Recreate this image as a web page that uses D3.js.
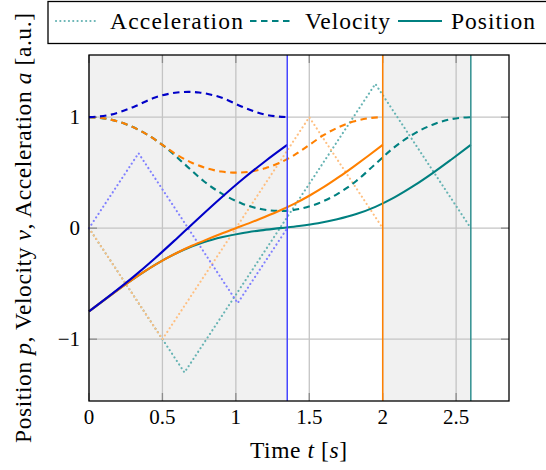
<!DOCTYPE html>
<html>
<head>
<meta charset="utf-8">
<script src="https://cdn.jsdelivr.net/npm/d3@7"></script>
<style>
  html, body { margin: 0; padding: 0; background: #fff; }
  svg { display: block; }
</style>
</head>
<body>
<svg id="chart" width="546" height="470"></svg>
<script>
// ---------------- data ----------------
const xTicks = [0, 0.5, 1, 1.5, 2, 2.5];
const xTickLabels = ["0", "0.5", "1", "1.5", "2", "2.5"];
const yTicks = [-1, 0, 1];
const yTickLabels = ["\u22121", "0", "1"];

const legendLabels = ["Acceleration", "Velocity", "Position"];

// trajectory end times (vertical markers) and shaded intervals
const durations = [1.35, 2.0, 2.6];
const shadedIntervals = [[0, 1.35], [2.0, 2.6]];

// blue trajectory
const blueT   = [0, 0.15, 0.3, 0.45, 0.6, 0.675, 0.75, 0.9, 1.05, 1.2, 1.35];
const bluePos = [-0.75, -0.599, -0.441, -0.271, -0.09, 0.002, 0.094, 0.274, 0.445, 0.603, 0.75];
const blueVel = [1, 1.023, 1.09, 1.177, 1.222, 1.228, 1.222, 1.177, 1.09, 1.023, 1];
const blueAccT = [0, 0.3375, 1.0125, 1.35];
const blueAcc  = [0, 0.675, -0.675, 0];

// orange trajectory
const orangeT   = [0, 0.1, 0.2, 0.3, 0.4, 0.5, 0.6, 0.7, 0.8, 0.9, 1.0, 1.1, 1.2, 1.3, 1.4, 1.5, 1.6, 1.7, 1.8, 1.9, 2.0];
const orangePos = [-0.75, -0.65, -0.553, -0.459, -0.371, -0.292, -0.221, -0.159, -0.103, -0.05, 0, 0.05, 0.103, 0.159, 0.221, 0.292, 0.371, 0.459, 0.553, 0.65, 0.75];
const orangeVel = [1, 0.99, 0.96, 0.91, 0.84, 0.75, 0.66, 0.59, 0.54, 0.51, 0.5, 0.51, 0.54, 0.59, 0.66, 0.75, 0.84, 0.91, 0.96, 0.99, 1];
const orangeAccT = [0, 0.5, 1.5, 2.0];
const orangeAcc  = [0, -1, 1, 0];

// teal trajectory
const tealT   = [0, 0.13, 0.26, 0.39, 0.52, 0.65, 0.78, 0.91, 1.04, 1.17, 1.3, 1.43, 1.56, 1.69, 1.82, 1.95, 2.08, 2.21, 2.34, 2.47, 2.6];
const tealPos = [-0.75, -0.621, -0.496, -0.38, -0.277, -0.192, -0.127, -0.08, -0.045, -0.02, 0, 0.02, 0.045, 0.08, 0.127, 0.192, 0.277, 0.38, 0.496, 0.621, 0.75];
const tealVel = [1, 0.983, 0.932, 0.848, 0.73, 0.578, 0.425, 0.307, 0.223, 0.172, 0.155, 0.172, 0.223, 0.307, 0.425, 0.578, 0.73, 0.848, 0.932, 0.983, 1];
const tealAccT = [0, 0.65, 1.95, 2.6];
const tealAcc  = [0, -1.3, 1.3, 0];

// ---------------- layout & styles ----------------
const FONT = '"Liberation Serif"';
const plot = { left: 89, right: 509, top: 55, bottom: 401 };
const colors = {
  blue: "#0000c8", blueMark: "#4646ff", blueAcc: "#8080ff",
  orange: "#ff8000", orangeMark: "#ff8000", orangeAcc: "#ffbf80",
  teal: "#008080", tealMark: "#2f8f8f", tealAcc: "#66b3b3"
};

const svg = d3.select("#chart");
const x = d3.scaleLinear().domain([0, 2.86]).range([plot.left, plot.right]);
const y = d3.scaleLinear().domain([-1.557, 1.560]).range([plot.bottom, plot.top]);

const zip = (ts, vs) => ts.map((t, i) => [t, vs[i]]);
const smooth = d3.line().x(d => x(d[0])).y(d => y(d[1])).curve(d3.curveMonotoneX);
const straight = d3.line().x(d => x(d[0])).y(d => y(d[1]));

// plot background shading
svg.append("g").selectAll("rect").data(shadedIntervals).join("rect")
  .attr("x", d => x(d[0])).attr("width", d => x(d[1]) - x(d[0]))
  .attr("y", plot.top).attr("height", plot.bottom - plot.top)
  .attr("fill", "#f1f1f1");

// grid
const grid = svg.append("g");
grid.selectAll(".gx").data(xTicks).join("line")
  .attr("x1", d => x(d)).attr("x2", d => x(d))
  .attr("y1", plot.top).attr("y2", plot.bottom)
  .attr("stroke", "#c4c4c4").attr("stroke-width", 1.3);
grid.selectAll(".gy").data(yTicks).join("line")
  .attr("y1", d => y(d)).attr("y2", d => y(d))
  .attr("x1", plot.left).attr("x2", plot.right)
  .attr("stroke", "#c4c4c4").attr("stroke-width", 1.3);

// inner tick marks on all four sides
const tickLen = 8;
const tk = svg.append("g").attr("stroke", "#8c8c8c").attr("stroke-width", 1.3);
xTicks.forEach(v => {
  tk.append("line").attr("x1", x(v)).attr("x2", x(v)).attr("y1", plot.bottom).attr("y2", plot.bottom - tickLen);
  tk.append("line").attr("x1", x(v)).attr("x2", x(v)).attr("y1", plot.top).attr("y2", plot.top + tickLen);
});
yTicks.forEach(v => {
  tk.append("line").attr("y1", y(v)).attr("y2", y(v)).attr("x1", plot.left).attr("x2", plot.left + tickLen);
  tk.append("line").attr("y1", y(v)).attr("y2", y(v)).attr("x1", plot.right).attr("x2", plot.right - tickLen);
});

// series
const dotted = { dash: "0.1 4.2", width: 2.1, cap: "round" };
const dashed = { dash: "6.5 4.5", width: 2.1, cap: "butt" };

function drawPath(points, gen, color, style) {
  svg.append("path").attr("d", gen(points))
    .attr("fill", "none").attr("stroke", color)
    .attr("stroke-width", style ? style.width : 2.1)
    .attr("stroke-dasharray", style ? style.dash : null)
    .attr("stroke-linecap", style ? style.cap : "butt")
    .attr("stroke-linejoin", "round");
}

// accelerations (dotted, light)
drawPath(zip(tealAccT, tealAcc), straight, colors.tealAcc, dotted);
drawPath(zip(orangeAccT, orangeAcc), straight, colors.orangeAcc, dotted);
drawPath(zip(blueAccT, blueAcc), straight, colors.blueAcc, dotted);

// velocities (dashed)
drawPath(zip(tealT, tealVel), smooth, colors.teal, dashed);
drawPath(zip(orangeT, orangeVel), smooth, colors.orange, dashed);
drawPath(zip(blueT, blueVel), smooth, colors.blue, dashed);

// positions (solid)
drawPath(zip(tealT, tealPos), smooth, colors.teal, null);
drawPath(zip(orangeT, orangePos), smooth, colors.orange, null);
drawPath(zip(blueT, bluePos), smooth, colors.blue, null);

// end-time markers
const markColors = [colors.blueMark, colors.orangeMark, colors.tealMark];
svg.append("g").selectAll("line").data(durations).join("line")
  .attr("x1", d => x(d)).attr("x2", d => x(d))
  .attr("y1", plot.top).attr("y2", plot.bottom)
  .attr("stroke", (d, i) => markColors[i]).attr("stroke-width", 1.5);

// frame
svg.append("rect")
  .attr("x", plot.left).attr("y", plot.top)
  .attr("width", plot.right - plot.left).attr("height", plot.bottom - plot.top)
  .attr("fill", "none").attr("stroke", "#000").attr("stroke-width", 1.3);

// tick labels
svg.append("g").selectAll("text").data(xTicks).join("text")
  .style("font-family", FONT)
  .attr("x", d => x(d)).attr("y", 423.5)
  .attr("text-anchor", "middle").attr("font-size", 21)
  .text((d, i) => xTickLabels[i]);
svg.append("g").selectAll("text").data(yTicks).join("text")
  .style("font-family", FONT)
  .attr("x", 80).attr("y", d => y(d) + 7)
  .attr("text-anchor", "end").attr("font-size", 21)
  .text((d, i) => yTickLabels[i]);

// axis labels
const xl = svg.append("text").style("font-family", FONT).attr("x", 298.5).attr("y", 458)
  .attr("text-anchor", "middle").attr("font-size", 23.5)
  .attr("textLength", 97).attr("lengthAdjust", "spacing");
xl.append("tspan").text("Time ");
xl.append("tspan").attr("font-style", "italic").text("t");
xl.append("tspan").text(" [");
xl.append("tspan").attr("font-style", "italic").text("s");
xl.append("tspan").text("]");

const yl = svg.append("text").style("font-family", FONT)
  .attr("transform", "translate(31,228) rotate(-90)")
  .attr("text-anchor", "middle").attr("font-size", 23.5)
  .attr("textLength", 430).attr("lengthAdjust", "spacing");
yl.append("tspan").text("Position ");
yl.append("tspan").attr("font-style", "italic").text("p");
yl.append("tspan").text(", Velocity ");
yl.append("tspan").attr("font-style", "italic").text("v");
yl.append("tspan").text(", Acceleration ");
yl.append("tspan").attr("font-style", "italic").text("a");
yl.append("tspan").text(" [a.u.]");

// legend
const lg = svg.append("g");
lg.append("rect").attr("x", 48).attr("y", 1.5).attr("width", 520).attr("height", 42)
  .attr("fill", "#fff").attr("stroke", "#000").attr("stroke-width", 1.3);
const legendItems = [
  { x0: 56, x1: 97, tx: 110, tw: 133, color: colors.tealAcc, style: dotted },
  { x0: 250, x1: 292, tx: 305, tw: 85, color: colors.teal, style: dashed },
  { x0: 398, x1: 442, tx: 451, tw: 84, color: colors.teal, style: null }
];
legendItems.forEach((it, i) => {
  lg.append("line").attr("x1", it.x0).attr("x2", it.x1).attr("y1", 21).attr("y2", 21)
    .attr("stroke", it.color).attr("stroke-width", it.style ? it.style.width : 2.1)
    .attr("stroke-dasharray", it.style ? it.style.dash : null)
    .attr("stroke-linecap", it.style ? it.style.cap : "butt");
  lg.append("text").style("font-family", FONT).attr("x", it.tx).attr("y", 28.5).attr("font-size", 23.5)
    .attr("textLength", it.tw).attr("lengthAdjust", "spacing")
    .text(legendLabels[i]);
});
</script>
</body>
</html>
